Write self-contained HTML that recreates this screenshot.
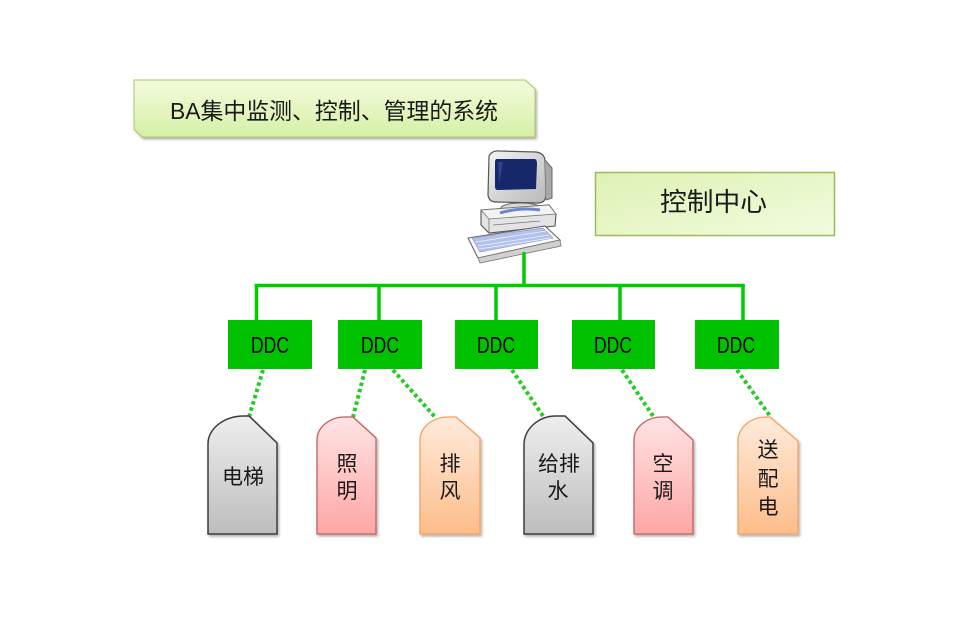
<!DOCTYPE html>
<html>
<head>
<meta charset="utf-8">
<style>
  html, body { margin: 0; padding: 0; background: #ffffff; }
  svg { display: block; }
  text { font-family: "Liberation Sans", "Noto Sans CJK SC", sans-serif; fill: #1a1a1a; }
</style>
</head>
<body>
<svg width="959" height="633" viewBox="0 0 959 633" xmlns="http://www.w3.org/2000/svg">
  <defs>
    <linearGradient id="gTitle" x1="0" y1="0" x2="0" y2="1">
      <stop offset="0" stop-color="#f3fbdc"/>
      <stop offset="1" stop-color="#d6efa6"/>
    </linearGradient>
    <linearGradient id="gCtrl" x1="0" y1="0" x2="1" y2="1">
      <stop offset="0" stop-color="#ddf2b4"/>
      <stop offset="1" stop-color="#f2fbdf"/>
    </linearGradient>
    <linearGradient id="gGray" x1="0" y1="0" x2="0" y2="1">
      <stop offset="0" stop-color="#eeeeee"/>
      <stop offset="1" stop-color="#bdbdbd"/>
    </linearGradient>
    <linearGradient id="gPink" x1="0" y1="0" x2="0" y2="1">
      <stop offset="0" stop-color="#ffe3e3"/>
      <stop offset="1" stop-color="#ffa6a6"/>
    </linearGradient>
    <linearGradient id="gOrange" x1="0" y1="0" x2="0" y2="1">
      <stop offset="0" stop-color="#feeadb"/>
      <stop offset="1" stop-color="#fdbd8a"/>
    </linearGradient>
    <linearGradient id="gMon" x1="0" y1="0" x2="1" y2="1">
      <stop offset="0" stop-color="#f4f4f4"/>
      <stop offset="1" stop-color="#b8b8b8"/>
    </linearGradient>
    <filter id="sh" x="-10%" y="-10%" width="130%" height="130%">
      <feDropShadow dx="1.5" dy="2" stdDeviation="1.2" flood-color="#000" flood-opacity="0.3"/>
    </filter>
  </defs>

  <!-- Title box -->
  <path d="M134,80 H525 L535,89 V137 H142 L134,129 Z" fill="url(#gTitle)" stroke="#a9c66e" stroke-width="1" filter="url(#sh)"/>
  <text x="170" y="119" font-size="23" textLength="328" lengthAdjust="spacingAndGlyphs">BA集中监测、控制、管理的系统</text>

  <!-- Control center box -->
  <rect x="595.5" y="172.5" width="239" height="63" fill="url(#gCtrl)" stroke="#9bbb59" stroke-width="1.5"/>
  <text x="660" y="211" font-size="26" textLength="107" lengthAdjust="spacingAndGlyphs">控制中心</text>

  <!-- Computer clip-art -->
  <g>
    <!-- monitor body -->
    <path d="M489,156 Q492,150 500,151 L536,152 Q544,153 545,160 L546,196 Q545,203 538,203 L496,202 Q489,202 488,195 Z" fill="url(#gMon)" stroke="#555" stroke-width="1.2"/>
    <path d="M545,160 L552,168 L552,198 L546,200" fill="#a8a8a8" stroke="#666" stroke-width="1"/>
    <!-- screen -->
    <path d="M496,159 L535,159 Q537,160 537,163 L536,189 L497,190 Q495,189 495,187 L495,161 Z" fill="#16276a"/>
    <path d="M498,162 L503,162 L499,185 Z" fill="#3b4f9a" opacity="0.7"/>
    <!-- stand -->
    <ellipse cx="521" cy="208" rx="20" ry="5" fill="#d9d9d9" stroke="#666" stroke-width="1"/>
    <!-- CPU case -->
    <path d="M481,210 L549,205 L556,214 L555,226 L489,233 L481,225 Z" fill="#e4e4e4" stroke="#555" stroke-width="1.1"/>
    <path d="M481,210 L549,205 L556,214 L489,219 Z" fill="#f3f3f3" stroke="#777" stroke-width="0.8"/>
    <path d="M500,213 Q520,207 540,210" fill="none" stroke="#6f86c8" stroke-width="3"/>
    <line x1="489" y1="219" x2="489" y2="233" stroke="#777" stroke-width="0.8"/>
    <line x1="493" y1="225" x2="540" y2="221" stroke="#777" stroke-width="0.8"/>
    <!-- keyboard -->
    <path d="M468,238 L545,226 L560,240 L478,258 Z" fill="#fafafa" stroke="#666" stroke-width="1.1"/>
    <path d="M472,238 L543,228 L553,238 L480,252 Z" fill="#b2c1ea" stroke="#8a9bd0" stroke-width="0.6"/>
    <g stroke="#ffffff" stroke-width="0.8" opacity="0.8">
      <line x1="476" y1="242" x2="546" y2="231"/>
      <line x1="478" y1="246" x2="549" y2="235"/>
      <line x1="479" y1="249" x2="551" y2="238"/>
    </g>
    <path d="M478,258 L560,240 L561,246 L480,263 Z" fill="#d0d0d0" stroke="#777" stroke-width="0.8"/>
  </g>

  <!-- Bus lines -->
  <g stroke="#00cc00" stroke-width="3.5" fill="none">
    <line x1="524" y1="252" x2="524" y2="286"/>
    <line x1="254.8" y1="285.5" x2="744.7" y2="285.5"/>
    <line x1="256.5" y1="284" x2="256.5" y2="321"/>
    <line x1="379" y1="284" x2="379" y2="321"/>
    <line x1="496" y1="284" x2="496" y2="321"/>
    <line x1="620" y1="284" x2="620" y2="321"/>
    <line x1="743" y1="284" x2="743" y2="321"/>
  </g>

  <!-- DDC boxes -->
  <g fill="#00c200">
    <rect x="228" y="320" width="84" height="49"/>
    <rect x="338" y="320" width="84" height="49"/>
    <rect x="455" y="320" width="83" height="49"/>
    <rect x="572" y="320" width="83" height="49"/>
    <rect x="695" y="320" width="84" height="49"/>
  </g>
  <g font-size="23">
    <text x="251" y="353" textLength="38" lengthAdjust="spacingAndGlyphs" style="fill:#000">DDC</text>
    <text x="361" y="353" textLength="38" lengthAdjust="spacingAndGlyphs" style="fill:#000">DDC</text>
    <text x="477" y="353" textLength="38" lengthAdjust="spacingAndGlyphs" style="fill:#000">DDC</text>
    <text x="594" y="353" textLength="38" lengthAdjust="spacingAndGlyphs" style="fill:#000">DDC</text>
    <text x="717" y="353" textLength="38" lengthAdjust="spacingAndGlyphs" style="fill:#000">DDC</text>
  </g>

  <!-- Dotted connectors -->
  <g stroke="#22cc22" stroke-width="4" stroke-dasharray="3.5 3" fill="none">
    <line x1="263" y1="370" x2="249" y2="417"/>
    <line x1="365" y1="370" x2="353" y2="417"/>
    <line x1="393" y1="370" x2="435" y2="417"/>
    <line x1="512" y1="370" x2="543" y2="416"/>
    <line x1="622" y1="370" x2="653" y2="416"/>
    <line x1="737" y1="370" x2="770" y2="416"/>
  </g>

  <!-- Device shapes -->
  <g filter="url(#sh)">
    <path d="M208,534 V444 A36,28 0 0 1 244,416 H249 L277,443 V534 Z" fill="url(#gGray)" stroke="#3c3c3c" stroke-width="1.5"/>
    <path d="M317,534 V440 A28,23 0 0 1 345,417 H353 L376,438 V534 Z" fill="url(#gPink)" stroke="#c0605e" stroke-width="1.3"/>
    <path d="M420,534 V440 A28,23 0 0 1 448,417 H456 L480,438 V534 Z" fill="url(#gOrange)" stroke="#f4a060" stroke-width="1.3"/>
    <path d="M524,534 V445 A32,29 0 0 1 556,416 H565 L593,443 V534 Z" fill="url(#gGray)" stroke="#3c3c3c" stroke-width="1.5"/>
    <path d="M634,534 V440 A28,23 0 0 1 662,417 H668 L693,440 V534 Z" fill="url(#gPink)" stroke="#c0605e" stroke-width="1.3"/>
    <path d="M738,534 V441 A28,24 0 0 1 766,417 H770 L798,441 V534 Z" fill="url(#gOrange)" stroke="#f4a060" stroke-width="1.3"/>
  </g>

  <!-- Device labels -->
  <g font-size="21" text-anchor="middle">
    <text x="243" y="484">电梯</text>
    <text x="347" y="471">照</text>
    <text x="347" y="498">明</text>
    <text x="450" y="471">排</text>
    <text x="450" y="498">风</text>
    <text x="559" y="471">给排</text>
    <text x="558" y="498">水</text>
    <text x="663" y="471">空</text>
    <text x="663" y="498">调</text>
    <text x="768" y="457">送</text>
    <text x="768" y="486">配</text>
    <text x="768" y="514">电</text>
  </g>
</svg>
</body>
</html>
